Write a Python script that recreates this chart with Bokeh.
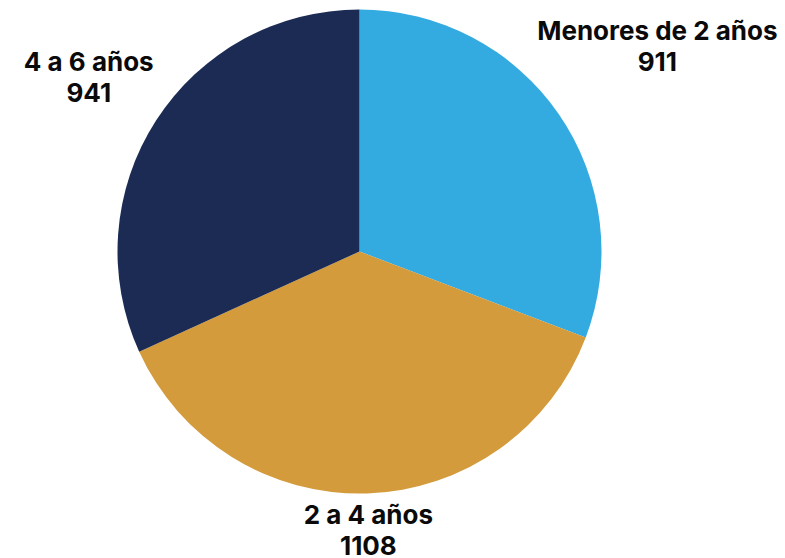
import math
from bokeh.plotting import figure
from bokeh.models import ColumnDataSource, Range1d
from bokeh.core.properties import value
from bokeh.embed import file_html
from bokeh.resources import INLINE

# ---- data ----
categories = ["Menores de 2 años", "2 a 4 años", "4 a 6 años"]
counts = [911, 1108, 941]
colors = ["#33ABE0", "#D39B3C", "#1C2B54"]

# ---- layout ----
W, H = 785, 558
cx, cy = 359, H - 251
R = 242
FS = 26
CHAR_W = 14
BOX_H = 56
GAP = 6

total = sum(counts)
starts, ends, lx, ly, labels = [], [], [], [], []
cum = 0.0
for cat, n in zip(categories, counts):
    a0 = math.pi / 2 - 2 * math.pi * (cum + n) / total
    a1 = math.pi / 2 - 2 * math.pi * cum / total
    starts.append(a0)
    ends.append(a1)
    mid = (a0 + a1) / 2
    c, s = math.cos(mid), math.sin(mid)
    text = f"{cat}\n{n}"
    w = CHAR_W * max(len(t) for t in text.split("\n"))
    d = R + GAP + abs(c) * w / 2 + abs(s) * BOX_H / 2
    lx.append(cx + d * c)
    ly.append(cy + d * s)
    labels.append(text)
    cum += n

src = ColumnDataSource(dict(start=starts, end=ends, color=colors))
lsrc = ColumnDataSource(dict(x=lx, y=ly, text=labels))

p = figure(width=W, height=H, output_backend="svg", toolbar_location=None,
           x_range=Range1d(0, W), y_range=Range1d(0, H), min_border=0)
p.axis.visible = False
p.grid.visible = False
p.outline_line_color = None
p.background_fill_color = "white"
p.border_fill_color = "white"

p.wedge(x=cx, y=cy, radius=R, start_angle="start", end_angle="end",
        direction="anticlock", fill_color="color", line_color=None, source=src)

p.text(x="x", y="y", text="text", source=lsrc, text_align="center",
       text_baseline="middle", text_font=value("Inter"), text_font_style="bold",
       text_font_size=f"{FS}px", text_line_height=1.0, text_color="#0A0A0A")

open("out.html", "w").write(file_html(p, INLINE))
